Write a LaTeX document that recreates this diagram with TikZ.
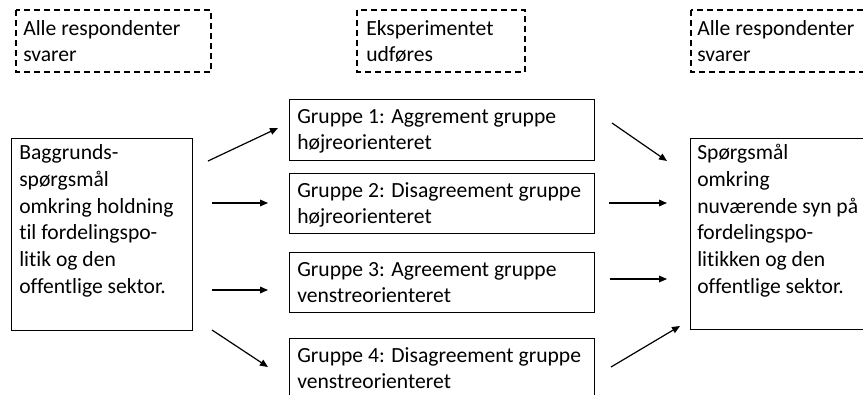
\documentclass[tikz,border=0pt]{standalone}
\usepackage{fontspec}
\setmainfont[Ligatures={NoCommon,NoContextual}]{Carlito}
\usetikzlibrary{arrows.meta}
\begin{document}
\begin{tikzpicture}[x=0.75pt,y=-0.75pt,
  solidbox/.style={draw=black,line width=1.1pt,fill=none,inner sep=0pt},
  dashbox/.style={draw=black,line width=1.1pt,dash pattern=on 4.5pt off 3pt,inner sep=0pt},
  lbl/.style={anchor=base west,inner sep=0pt,align=left,
    font=\fontsize{16.2pt}{20pt}\selectfont},
  arr/.style={line width=0.9pt,-{Triangle[length=6pt,width=5pt]}}]
\clip (0,0) rectangle (863,394);
% boxes
\draw[dashbox] (16,10) rectangle (211,72);
\draw[dashbox] (357,10) rectangle (525,72);
\draw[dashbox] (691,10) rectangle (890,72);
\node[solidbox,anchor=north west,minimum width=181*0.75pt,minimum height=192*0.75pt] (L) at (11,138) {};
\node[solidbox,anchor=north west,minimum width=200*0.75pt,minimum height=191*0.75pt] (R) at (690,138) {};
\node[solidbox,anchor=north west,minimum width=305*0.75pt,minimum height=61*0.75pt] (g1) at (289,99) {};
\node[solidbox,anchor=north west,minimum width=305*0.75pt,minimum height=60*0.75pt] (g2) at (289,173) {};
\node[solidbox,anchor=north west,minimum width=305*0.75pt,minimum height=60*0.75pt] (g3) at (289,252) {};
\node[solidbox,anchor=north west,minimum width=305*0.75pt,minimum height=80*0.75pt] (g4) at (289,338) {};
% texts (anchor = baseline of last line)
\node[lbl] (t1) at (23,35+26.67) {Alle respondenter\\svarer};
\node[lbl] (t2) at (366,35+26.67) {Eksperimentet\\udføres};
\node[lbl] (t3) at (697,35+26.67) {Alle respondenter\\svarer};
\node[lbl] (tL) at (19,160+133.3) {Baggrunds-\\spørgsmål\\omkring holdning\\til fordelingspo-\\litik og den\\offentlige sektor.};
\node[lbl] (tR) at (697,160+133.3) {Spørgsmål\\omkring\\nuværende syn på\\fordelingspo-\\litikken og den\\offentlige sektor.};
\node[lbl] (tg1) at (297,123+26.67) {Gruppe 1: Aggrement gruppe\\højreorienteret};
\node[lbl] (tg2) at (297,197+26.67) {Gruppe 2: Disagreement gruppe\\højreorienteret};
\node[lbl] (tg3) at (297,276+26.67) {Gruppe 3: Agreement gruppe\\venstreorienteret};
\node[lbl] (tg4) at (297,362+26.67) {Gruppe 4: Disagreement gruppe\\venstreorienteret};
% arrow end points
\coordinate (a1s) at (208,161); \coordinate (a1e) at (278,128);
\coordinate (a2s) at (212,203); \coordinate (a2e) at (268,203);
\coordinate (a3s) at (212,290); \coordinate (a3e) at (268,290);
\coordinate (a4s) at (212,330); \coordinate (a4e) at (268,367);
\coordinate (b1s) at (612,123); \coordinate (b1e) at (667,161);
\coordinate (b2s) at (609,203); \coordinate (b2e) at (667,203);
\coordinate (b3s) at (610,279); \coordinate (b3e) at (667,279);
\coordinate (b4s) at (611,367); \coordinate (b4e) at (680,326);
\foreach \s/\e in {a1s/a1e,a2s/a2e,a3s/a3e,a4s/a4e,b1s/b1e,b2s/b2e,b3s/b3e,b4s/b4e}
  \draw[arr] (\s) -- (\e);
\end{tikzpicture}
\end{document}
